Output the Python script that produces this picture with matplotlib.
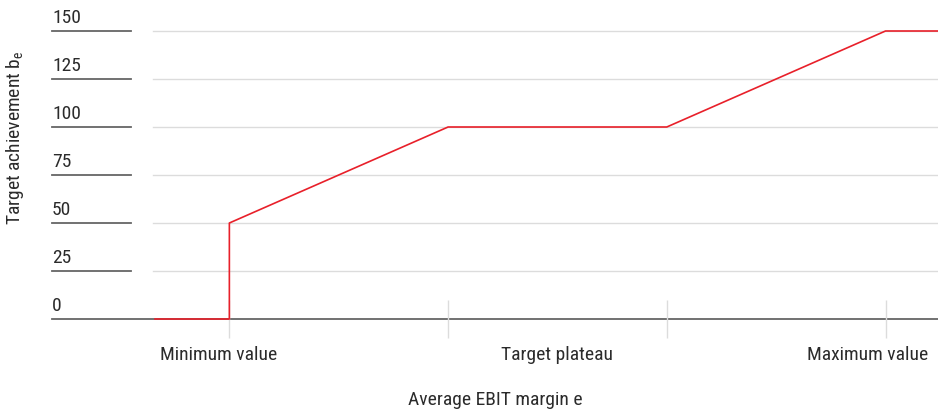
import matplotlib.pyplot as plt
from matplotlib import font_manager

# piecewise target achievement curve
margin = [0.66, 1.0, 1.0, 2.0, 3.0, 4.0, 4.24]
achievement = [0, 0, 50, 100, 100, 150, 150]

y_ticks = [0, 25, 50, 75, 100, 125, 150]
x_marks = [1, 2, 3, 4]
x_label_pos = [0.95, 2.5, 3.92]
x_labels = ["Minimum value", "Target plateau", "Maximum value"]

fonts = font_manager.fontManager.ttflist
names = {f.name for f in fonts}
fam = "DejaVu Sans"
for cand in ["Liberation Sans Narrow", "Roboto Condensed", "Open Sans Condensed", "Noto Sans Condensed"]:
    if cand in names:
        fam = cand
        break
plt.rcParams['font.family'] = [fam, 'DejaVu Sans']
plt.rcParams['mathtext.fontset'] = 'custom'
plt.rcParams['mathtext.rm'] = fam
if fam == "DejaVu Sans" and any(f.name == "DejaVu Sans" and f.stretch == "condensed" for f in fonts):
    plt.rcParams['font.stretch'] = 'condensed'
fs = 14 if fam != "DejaVu Sans" or plt.rcParams['font.stretch'] == 'condensed' else 12.5

txt = "#2b2b2b"
grid = "#dcdcdc"

fig = plt.figure(figsize=(9.38, 4.10), dpi=100)
ax = fig.add_axes([155 / 938, 90 / 410, 783 / 938, 288 / 410])
ax.set_xlim(0.66, 4.24)
ax.set_ylim(0, 150)

for s in ax.spines.values():
    s.set_visible(False)

# gridlines and short dark lines under the y labels
tr = ax.get_yaxis_transform()
for v in y_ticks:
    if v == 0:
        ax.plot([-0.1315, 1], [v, v], color="#666666", lw=1.3, transform=tr, clip_on=False, zorder=1)
    else:
        ax.plot([-0.003, 1], [v, v], color=grid, lw=1.0, transform=tr, clip_on=False, zorder=0)
        ax.plot([-0.1315, -0.0307], [v, v], color="#666666", lw=1.3, transform=tr, clip_on=False)
    ax.text(-0.1315, v + 2.5, str(v), transform=tr, ha="left", va="bottom",
            fontsize=fs, color=txt)

ax.set_yticks([])
ax.set_xticks(x_label_pos)
ax.set_xticklabels(x_labels, fontsize=fs, color=txt)
ax.tick_params(axis="x", which="major", length=0, pad=19)
ax.set_xticks(x_marks, minor=True)
ax.tick_params(axis="x", which="minor", direction="inout", length=27, color=grid, width=1)

ax.plot(margin, achievement, color="#e8202a", lw=1.2, clip_on=False, zorder=3)

fig.text(15 / 938, 1 - 138 / 410, r"Target achievement b$_\mathrm{e}$", rotation=90,
         ha="center", va="center", fontsize=fs, color=txt)
fig.text(495 / 938, 1 - 400 / 410, "Average EBIT margin e", ha="center", va="center",
         fontsize=fs, color=txt)

fig.savefig("out.png", dpi=100)
